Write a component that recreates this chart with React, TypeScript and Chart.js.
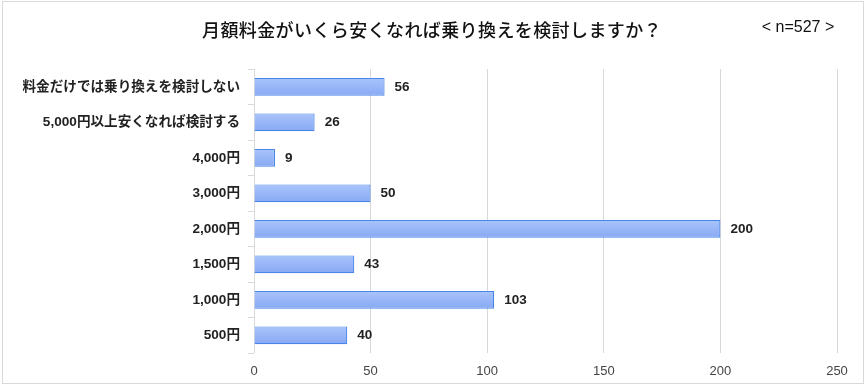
import React, { useEffect, useRef } from "react";
import { Chart, registerables } from "chart.js";
Chart.register(...registerables);

const categories = [
  "料金だけでは乗り換えを検討しない",
  "5,000円以上安くなれば検討する",
  "4,000円",
  "3,000円",
  "2,000円",
  "1,500円",
  "1,000円",
  "500円",
];
const values = [56, 26, 9, 50, 200, 43, 103, 40];
const xTickStep = 50;
const xMax = 250;
const titleText = "月額料金がいくら安くなれば乗り換えを検討しますか？";
const sampleText = "< n=527 >";

const FONT = "'Liberation Sans', 'Noto Sans CJK JP', sans-serif";

export default function App() {
  const ref = useRef<HTMLCanvasElement>(null);
  useEffect(() => {
    document.body.style.margin = "0";
    const textPlugin = {
      id: "textPlugin",
      afterDatasetsDraw(chart: any) {
        const { ctx } = chart;
        const meta = chart.getDatasetMeta(0);
        ctx.save();
        ctx.font = `bold 13.5px ${FONT}`;
        ctx.fillStyle = "#222";
        ctx.textBaseline = "middle";
        ctx.textAlign = "left";
        meta.data.forEach((bar: any, i: number) => {
          ctx.fillText(String(values[i]), bar.x + 10, bar.y + 0.5);
        });
        ctx.font = `500 18px 'Noto Sans CJK JP', sans-serif`;
        ctx.textAlign = "center";
        ctx.fillStyle = "#111";
        try {
          (ctx as any).letterSpacing = "0.4px";
        } catch (e) {}
        ctx.fillText(titleText, 432, 30);
        try {
          (ctx as any).letterSpacing = "0px";
        } catch (e) {}
        ctx.font = `16px ${FONT}`;
        ctx.fillText(sampleText, 798, 28);
        ctx.restore();
      },
    };
    const chart = new Chart(ref.current!, {
      type: "bar",
      data: {
        labels: categories,
        datasets: [
          {
            data: values,
            backgroundColor: (c: any) => {
              const ch = c.chart;
              const ys = ch.scales && ch.scales.y;
              if (!ys || c.dataIndex === undefined) return "#9bb8f7";
              const y = ys.getPixelForValue(c.dataIndex);
              if (!isFinite(y)) return "#9bb8f7";
              const g = ch.ctx.createLinearGradient(0, y - 9, 0, y + 9);
              g.addColorStop(0, "#aac5fb");
              g.addColorStop(1, "#87a8f4");
              return g;
            },
            borderColor: "#4a86e8",
            borderWidth: 1.2,
            barPercentage: 0.5,
            categoryPercentage: 1,
          },
        ],
      },
      options: {
        indexAxis: "y",
        responsive: false,
        animation: false,
        layout: { padding: { top: 69, right: 28, bottom: 0, left: 0 } },
        plugins: { legend: { display: false }, tooltip: { enabled: false } },
        scales: {
          x: {
            min: 0,
            max: xMax,
            ticks: {
              stepSize: xTickStep,
              font: { family: FONT, size: 13 },
              color: "#444",
              padding: 11,
            },
            grid: { color: "#d9d9d9", drawTicks: false },
            border: { display: false },
            afterFit: (s: any) => {
              s.height = 33;
            },
          },
          y: {
            ticks: {
              font: { family: FONT, size: 13.6, weight: "bold" },
              color: "#222",
              padding: 8,
            },
            grid: {
              drawOnChartArea: false,
              tickLength: 6,
              color: "#d9d9d9",
              offset: true,
            },
            border: { display: false },
            afterFit: (s: any) => {
              s.width = 254;
            },
          },
        },
      },
      plugins: [textPlugin],
    });
    return () => chart.destroy();
  }, []);
  return (
    <div style={{ position: "relative", width: 865, height: 386, background: "#fff" }}>
      <canvas ref={ref} width={865} height={386} style={{ display: "block" }} />
      <div
        style={{
          position: "absolute",
          left: 2,
          top: 1,
          width: 862,
          height: 383,
          border: "1px solid #d9d9d9",
          boxSizing: "border-box",
          pointerEvents: "none",
        }}
      />
    </div>
  );
}
